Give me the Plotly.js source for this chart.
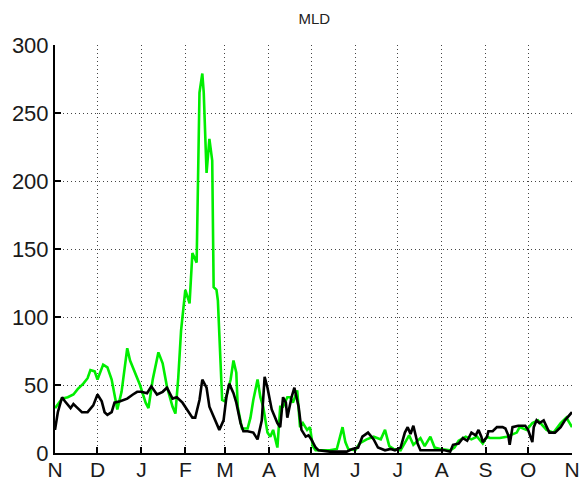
<!DOCTYPE html>
<html>
<head>
<meta charset="utf-8">
<script src="https://cdn.plot.ly/plotly-3.0.1.min.js"></script>
<style>html,body{margin:0;padding:0;background:#fff;}#chart{width:582px;height:481px;}</style>
</head>
<body>
<div id="chart"></div>
<script>
// Days since 1 Nov
const greenDays = [0,5,9,13,16,20,23,25,28,30,34,37,40,42,44,47,51,53,55,60,64,66,69,73,76,79,83,85,87,89,92,95,97,100,102,104,105,107,109,111,112,114,115,117,118,120,124,126,128,129,132,136,138,140,143,145,147,150,152,154,157,159,161,164,166,168,171,173,175,178,180,182,184,187,194,199,203,205,207,212,215,220,225,230,233,236,239,244,247,250,253,258,261,265,268,272,279,282,285,290,294,298,302,305,307,314,319,326,328,333,337,341,347,352,357,361,365];
const greenMLD = [33,40,41,43,47,51,55,61,60,54,65,63,54,44,32,45,77,68,63,50,37,33,54,74,66,49,34,29,55,90,120,110,147,140,265,279,265,206,231,215,122,120,112,68,39,38,54,68,59,34,18,18,26,39,54,41,34,15,12,17,4,34,34,41,41,37,46,19,22,17,19,5,2,2,2,3,19,8,3,2,7,10,12,10,17,5,3,2,8,13,6,11,5,12,4,3,2,4,9,12,10,12,7,12,11,11,12,15,19,17,22,24,17,15,22,26,19];
const blackDays = [0,2,5,7,11,13,16,19,23,27,30,33,35,37,40,42,46,51,55,58,61,65,68,72,76,79,83,86,90,93,97,99,102,104,107,109,113,116,119,121,123,126,128,131,133,136,140,143,146,148,150,153,157,159,161,163,164,167,169,172,174,177,179,181,184,186,194,206,210,214,217,221,225,228,233,237,240,244,247,249,251,253,256,258,265,275,279,281,285,288,291,294,297,299,301,302,305,306,309,312,316,318,320,321,323,327,332,334,337,338,340,342,345,347,349,353,357,360,365];
const blackMLD = [17,30,41,38,33,36,33,30,30,35,43,38,30,28,30,37,38,40,43,45,45,44,49,43,45,48,40,41,37,32,26,26,39,54,48,34,24,17,24,41,51,44,37,22,16,16,15,10,24,56,48,32,22,19,41,37,26,41,48,34,17,12,13,10,4,2,1,1,3,4,12,15,10,4,2,3,2,4,15,19,14,20,7,2,2,2,1,6,7,11,9,15,13,17,12,8,12,16,16,19,19,18,13,6,19,20,20,17,8,19,24,22,24,19,15,15,19,24,30];
const monthTickDays = [0,30,61,92,120,151,181,212,242,273,304,334,365];
const monthLabels = ['N','D','J','F','M','A','M','J','J','A','S','O','N'];
const yTicks = [0,50,100,150,200,250,300];
const chartTitle = 'MLD';

const traces = [
  {x: greenDays, y: greenMLD, type: 'scatter', mode: 'lines', line: {color: '#00ee00', width: 2.6}, hoverinfo: 'skip'},
  {x: blackDays, y: blackMLD, type: 'scatter', mode: 'lines', line: {color: '#000000', width: 2.6}, hoverinfo: 'skip'}
];
const yfont = {family: 'Liberation Sans, Arial, sans-serif', size: 22, color: '#1a1a1a'};
const xfont = {family: 'Liberation Sans, Arial, sans-serif', size: 21, color: '#1a1a1a'};
const layout = {
  width: 582, height: 481,
  margin: {l: 55, r: 10, t: 45, b: 28, pad: 0},
  paper_bgcolor: '#fff', plot_bgcolor: '#fff',
  showlegend: false,
  title: {text: chartTitle, x: 0.54, xanchor: 'center', y: 0.96, yanchor: 'middle', font: {family: 'Liberation Sans, Arial, sans-serif', size: 15, color: '#222'}},
  xaxis: {
    range: [0, 365], tickmode: 'array', tickvals: monthTickDays, ticktext: monthLabels,
    showgrid: true, gridcolor: '#444', griddash: '1px,3px', gridwidth: 1,
    showline: true, linecolor: '#000', linewidth: 2, mirror: false,
    ticks: 'inside', ticklen: 6, tickwidth: 2, tickcolor: '#000',
    zeroline: false, tickfont: xfont, automargin: false, ticklabelstandoff: -3
  },
  yaxis: {
    range: [0, 300], tickmode: 'array', tickvals: yTicks,
    showgrid: true, gridcolor: '#444', griddash: '1px,3px', gridwidth: 1,
    showline: true, linecolor: '#000', linewidth: 2, mirror: false,
    ticks: 'inside', ticklen: 6, tickwidth: 2, tickcolor: '#000',
    zeroline: false, tickfont: yfont, automargin: false
  }
};
Plotly.newPlot('chart', traces, layout, {displayModeBar: false, staticPlot: true});
</script>
</body>
</html>
